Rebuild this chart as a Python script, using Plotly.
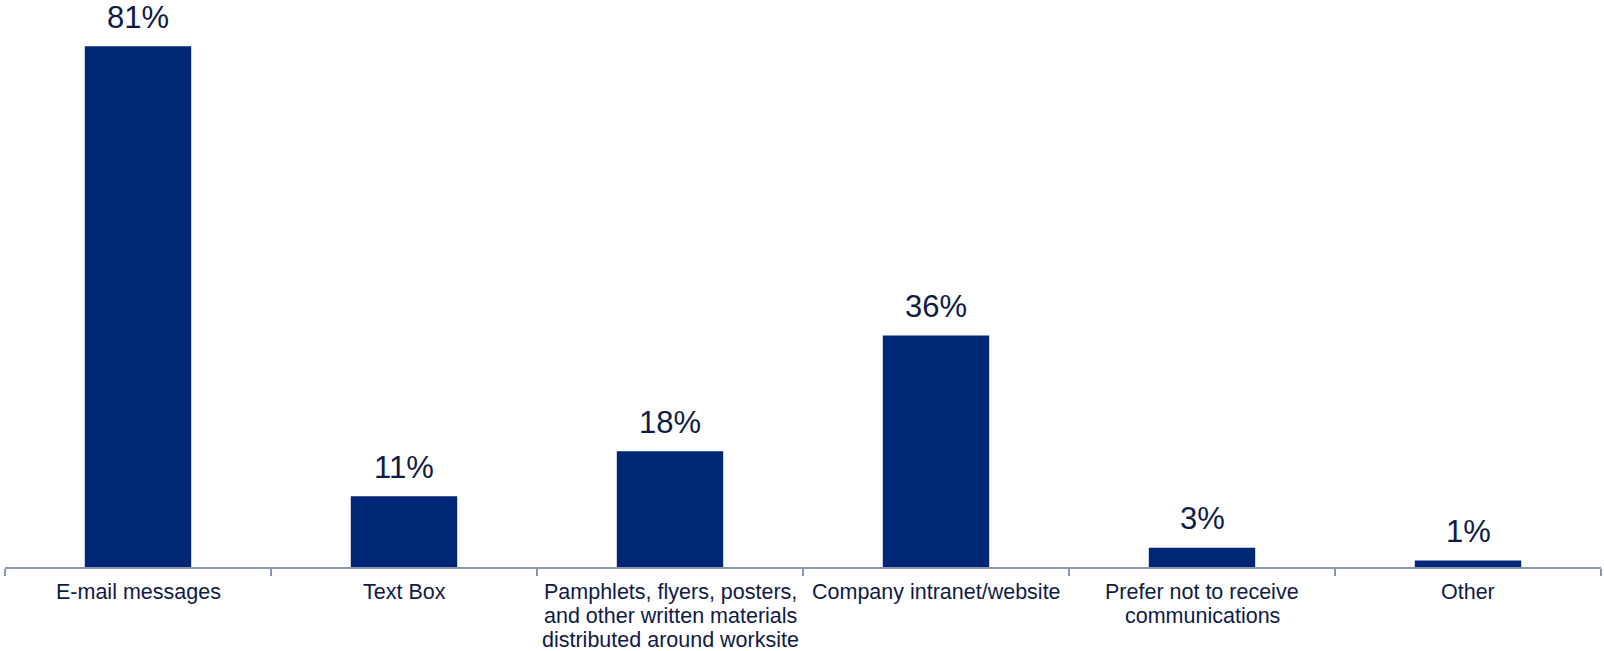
import plotly.graph_objects as go

categories = [
    "E-mail messages",
    "Text Box",
    "Pamphlets, flyers, posters,<br>and other written materials<br>distributed around worksite",
    "Company intranet/website",
    "Prefer not to receive<br>communications",
    "Other",
]
values = [81, 11, 18, 36, 3, 1]
value_labels = ["81%", "11%", "18%", "36%", "3%", "1%"]

BAR_COLOR = "#002776"
TEXT_COLOR = "#0f1b45"
AXIS_COLOR = "#8c94b6"
FONT = "Liberation Sans, Arial, sans-serif"

fig = go.Figure(
    go.Bar(
        x=categories,
        y=values,
        marker=dict(color=BAR_COLOR, line=dict(width=0)),
        hoverinfo="skip",
    )
)

annotations = []
# value labels above each bar
for cat, v, lab in zip(categories, values, value_labels):
    annotations.append(dict(
        x=cat, y=v, xref="x", yref="y", text=lab, showarrow=False,
        yanchor="middle", yshift=29,
        font=dict(family=FONT, size=31, color=TEXT_COLOR),
    ))
# category labels below the axis, one annotation per line for tighter leading
for cat in categories:
    for i, line in enumerate(cat.split("<br>")):
        annotations.append(dict(
            x=cat, y=0, xref="x", yref="y", text=line, showarrow=False,
            yanchor="middle", yshift=-(24.5 + 24.3 * i),
            font=dict(family=FONT, size=21.5, color=TEXT_COLOR),
        ))

fig.update_layout(
    width=1604, height=651,
    margin=dict(l=5, r=3, t=0, b=84),
    paper_bgcolor="white", plot_bgcolor="white",
    bargap=0.6,
    showlegend=False,
    annotations=annotations,
    font=dict(family=FONT, color=TEXT_COLOR),
)
fig.update_xaxes(
    type="category",
    showticklabels=False,
    showline=True, linecolor=AXIS_COLOR, linewidth=1.5,
    ticks="outside", tickson="boundaries", ticklen=7,
    tickcolor=AXIS_COLOR, tickwidth=1.5,
    showgrid=False, zeroline=False,
)
fig.update_yaxes(
    range=[0, 88.2], visible=False, showgrid=False, zeroline=False,
)

fig.write_html("out.html")
